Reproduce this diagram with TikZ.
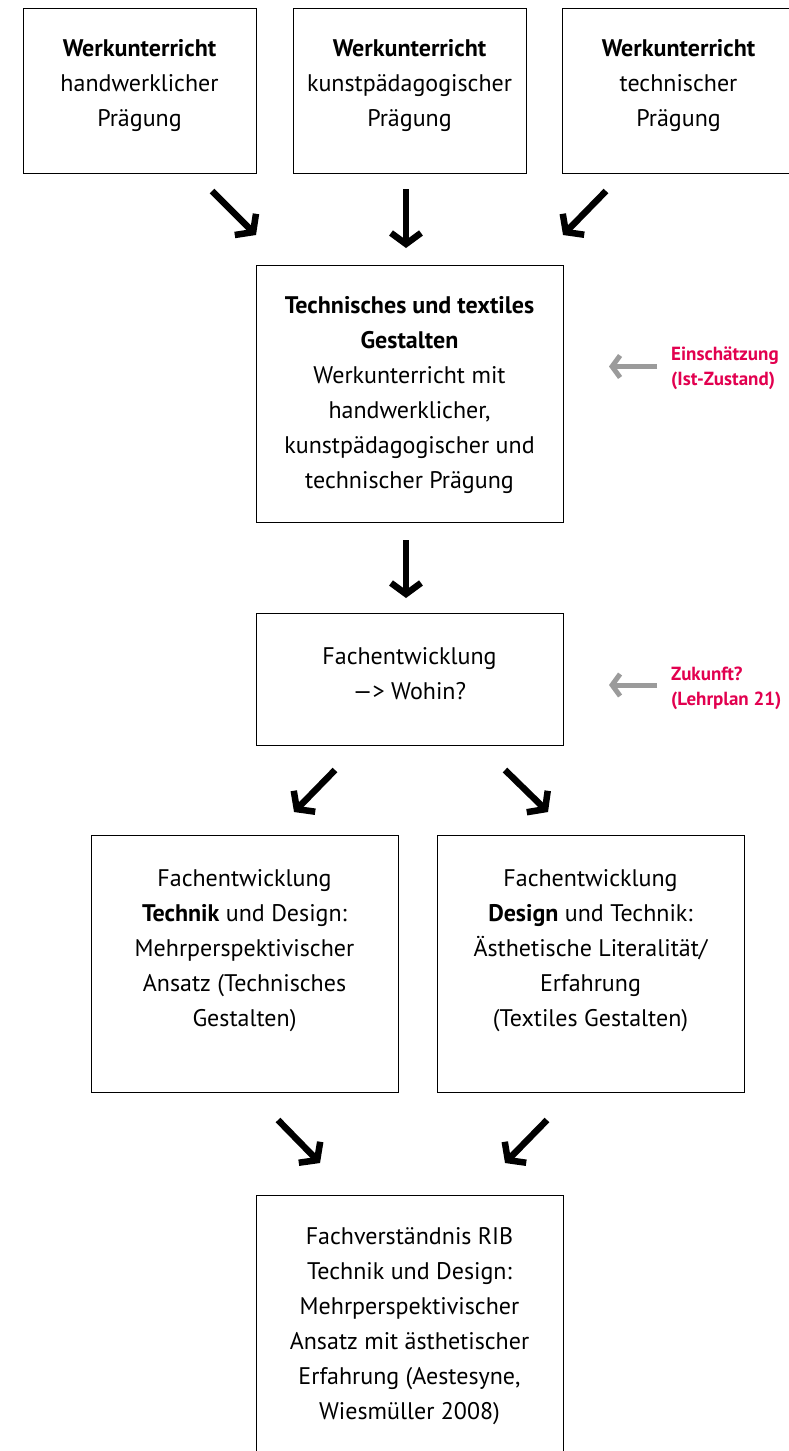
\documentclass[tikz,border=0pt]{standalone}
\usepackage{fontspec}
\setmainfont{PT Sans}
\usetikzlibrary{arrows.meta,positioning}
\definecolor{rotrib}{HTML}{E2004F}
\definecolor{graupfeil}{HTML}{9B9B9B}

\begin{document}
\begin{tikzpicture}[x=1pt,y=-1pt,font=\fontsize{24}{35}\selectfont,
	box/.style={draw,line width=1pt,minimum width=233pt,minimum height=165pt,inner sep=0pt},
	breit/.style={box,minimum width=307pt,minimum height=257pt},
	txt/.style={align=center,inner sep=0pt,anchor=north},
	pfeil/.style={line width=6.5pt,-{Straight Barb[length=11pt,width=30pt]}},
	hinweis/.style={line width=5pt,graupfeil,-{Straight Barb[length=8pt,width=22pt]}},
	rot/.style={rotrib,font=\fontsize{19}{25}\selectfont\bfseries,align=left,anchor=west,inner sep=0pt}]
	\useasboundingbox (0,0) rectangle (789,1451);
	% Werkunterricht
	\node[box] (w1) at (139.5,90.5) {};
	\node[box] (w2) at (409.5,90.5) {};
	\node[box] (w3) at (678.5,90.5) {};
	\node[txt] (w1t) at ([yshift=-32pt]w1.north) {\textbf{Werkunterricht}\\handwerklicher\\Prägung};
	\node[txt] (w2t) at ([yshift=-32pt]w2.north) {\textbf{Werkunterricht}\\kunstpädagogischer\\Prägung};
	\node[txt] (w3t) at ([yshift=-32pt]w3.north) {\textbf{Werkunterricht}\\technischer\\Prägung};
	% TTG
	\node[breit] (ttg) at (409.5,393.5) {};
	\node[txt] (ttgt) at ([yshift=-32pt]ttg.north) {\textbf{Technisches und textiles}\\\textbf{Gestalten}\\Werkunterricht mit\\handwerklicher,\\kunstpädagogischer und\\technischer Prägung};
	\node[breit,minimum height=132pt] (fe) at (409.5,679) {};
	\node[txt] (fet) at ([yshift=-35pt]fe.north) {Fachentwicklung\\—> Wohin?};
	\node[breit] (fl) at (244.5,964) {};
	\node[breit] (fr) at (590.5,964) {};
	\node[txt] (flt) at ([yshift=-34pt]fl.north) {Fachentwicklung\\\textbf{Technik} und Design:\\Mehrperspektivischer\\Ansatz (Technisches\\Gestalten)};
	\node[txt] (frt) at ([yshift=-34pt]fr.north) {Fachentwicklung\\\textbf{Design} und Technik:\\Ästhetische Literalität/\\Erfahrung\\(Textiles Gestalten)};
	\node[breit] (rib) at (409.5,1323.5) {};
	\node[txt] (ribt) at ([yshift=-33pt]rib.north) {Fachverständnis RIB\\Technik und Design:\\Mehrperspektivischer\\Ansatz mit ästhetischer\\Erfahrung (Aestesyne,\\Wiesmüller 2008)};
	% Hinweise
	\node[rot] (ist) at (671,368.5) {Einschätzung\\(Ist-Zustand)};
	\node[rot] (zuk) at (671,688) {Zukunft?\\(Lehrplan 21)};
	% Pfeile
	\coordinate (p1a) at (212,191); \coordinate (p1b) at (256,235);
	\coordinate (p2a) at (406,189); \coordinate (p2b) at (406,248);
	\coordinate (p3a) at (606,191); \coordinate (p3b) at (563,235);
	\coordinate (p4a) at (406,540); \coordinate (p4b) at (406,598);
	\coordinate (p5a) at (335,770); \coordinate (p5b) at (294,812);
	\coordinate (p6a) at (505,770); \coordinate (p6b) at (548,812);
	\coordinate (p7a) at (278,1120); \coordinate (p7b) at (320,1163);
	\coordinate (p8a) at (547,1120); \coordinate (p8b) at (505,1163);
	\foreach \i in {1,...,8}
		\draw[pfeil] (p\i a) -- (p\i b);
	\draw[hinweis] (ist.west) ++(-14,-2) coordinate (h1a) -- ++(-48,0);
	\draw[hinweis] (zuk.west) ++(-14,-3) coordinate (h2a) -- ++(-48,0);
\end{tikzpicture}
\end{document}
